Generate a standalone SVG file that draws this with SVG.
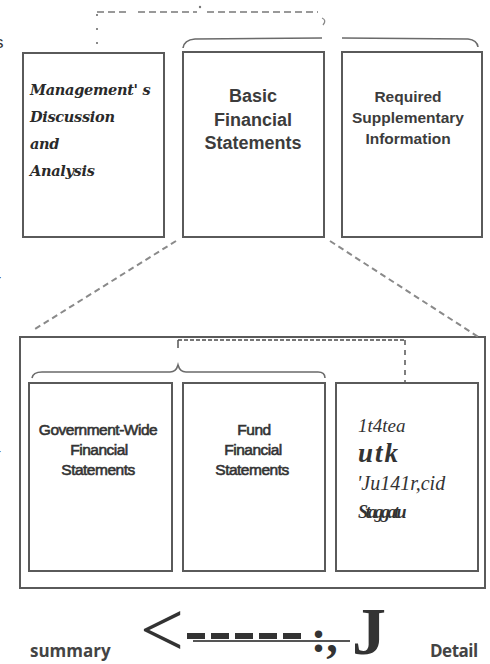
<svg xmlns="http://www.w3.org/2000/svg" width="490" height="664" viewBox="0 0 490 664">
<style>
.box{fill:none;stroke:#5a5a5a;stroke-width:2}
.dash{fill:none;stroke:#8a8a8a;stroke-width:2;stroke-dasharray:6 4}
.brace{fill:none;stroke:#6a6a6a;stroke-width:1.6}
.lbl{font-family:"Liberation Sans",Arial,sans-serif;fill:#3c3c3c;text-anchor:middle}
.big{font-size:18px;font-weight:bold}
.rsi{font-size:15.5px;font-weight:bold}
.sm{font-size:15.5px;letter-spacing:-0.5px;fill:#333;stroke:#333;stroke-width:0.6}
.script{font-family:"DejaVu Serif","Liberation Serif",serif;font-style:italic;font-weight:bold;font-size:14.5px;fill:#2a2a2a;letter-spacing:-0.3px}
.garb{font-family:"Liberation Serif","Times New Roman",serif;font-style:italic;fill:#333}
.frag{font-family:"Liberation Sans",Arial,sans-serif;fill:#333}
</style>
<rect width="490" height="664" fill="#fff"/>

<!-- edge fragments -->
<text class="frag" x="-5" y="48" font-size="17">s</text>
<text class="frag" x="-5" y="287" font-size="18" font-style="italic">t</text>
<text class="frag" x="-3" y="303" font-size="10">.</text>
<text class="frag" x="-3" y="455" font-size="12">-</text>

<g id="mdna">
  <rect class="box" x="23" y="53" width="141" height="184"/>
  <text class="script" x="30" y="95">Management' s</text>
  <text class="script" x="30" y="122">Discussion</text>
  <text class="script" x="30" y="149">and</text>
  <text class="script" x="30" y="176">Analysis</text>
</g>

<g id="basic">
  <rect class="box" x="183" y="52" width="141" height="185"/>
  <text class="lbl big" x="253" y="102">Basic</text>
  <text class="lbl big" x="253" y="126">Financial</text>
  <text class="lbl big" x="253" y="149">Statements</text>
</g>

<g id="rsi">
  <rect class="box" x="342" y="52" width="140" height="185"/>
  <text class="lbl rsi" x="408" y="102">Required</text>
  <text class="lbl rsi" x="408" y="123">Supplementary</text>
  <text class="lbl rsi" x="408" y="144">Information</text>
</g>

<g id="bfs-detail">
  <rect class="box" x="20" y="337" width="465" height="251"/>
</g>

<g id="govwide">
  <rect class="box" x="29" y="383" width="143" height="188"/>
  <text class="lbl sm" x="98" y="435">Government-Wide</text>
  <text class="lbl sm" x="99" y="455">Financial</text>
  <text class="lbl sm" x="98" y="475">Statements</text>
</g>

<g id="fund">
  <rect class="box" x="183" y="383" width="142" height="188"/>
  <text class="lbl sm" x="254" y="435">Fund</text>
  <text class="lbl sm" x="253" y="455">Financial</text>
  <text class="lbl sm" x="252" y="475">Statements</text>
</g>

<g id="notes">
  <rect class="box" x="336" y="383" width="142" height="188"/>
  <text class="garb" x="358" y="432" font-size="19">1t4tea</text>
  <text class="garb" x="358" y="462" font-size="27" font-weight="bold" letter-spacing="2">utk</text>
  <text class="garb" x="357" y="490" font-size="20">'Ju141r,cid</text>
  <text class="garb" x="358" y="518" font-size="18" font-weight="bold" letter-spacing="-2.5">Staggatu</text>
</g>

<g id="connectors">
  <path class="dash" d="M97,12 L128,12 M138,12 L197,12 M207,12 L318,12" style="stroke-dasharray:7 4;stroke:#999"/>
  <circle cx="200" cy="7" r="1.2" fill="#777"/>
  <path d="M322,18 Q327,20 323,25" fill="none" stroke="#888" stroke-width="1.3"/>
  <path class="dash" d="M97,14 L97,52" style="stroke-dasharray:2 12"/>
  <path class="brace" d="M183,48 Q184,40 195,39 L322,38 M342,38 L468,39 Q477,40 478,47"/>
  <path class="dash" d="M176,241 L35,329"/>
  <path class="dash" d="M330,241 L480,338"/>
  <path d="M178,340 L405,340" fill="none" stroke="#777" stroke-width="2" stroke-dasharray="4 2"/>
  <path d="M178,340 L178,348" fill="none" stroke="#555" stroke-width="1.5"/>
  <path d="M405,340 L405,382" fill="none" stroke="#555" stroke-width="1.5" stroke-dasharray="5 5"/>
  <path class="brace" d="M32,378 Q33,372 42,372 L170,372 Q176,372 178,365 Q180,372 186,372 L318,372 Q325,372 325,378"/>
  <path d="M187,636 L305,636" fill="none" stroke="#333" stroke-width="6" stroke-dasharray="18 6"/>
  <path d="M193,641 L350,641" fill="none" stroke="#555" stroke-width="2"/>
</g>

<g id="legend">
  <text x="30" y="657" font-family="'Open Sans','Liberation Sans',sans-serif" font-size="17" font-weight="bold" fill="#444">summary</text>
  <text x="140" y="656" font-family="'Liberation Serif',serif" font-size="78" fill="#333">&lt;</text>
  <text x="311" y="652" font-family="'Liberation Serif',serif" font-size="46" font-weight="bold" fill="#333">:,</text>
  <text x="352" y="654" font-family="'Liberation Serif',serif" font-size="68" font-weight="bold" fill="#333">J</text>
  <text x="430" y="657" font-family="'Open Sans','Liberation Sans',sans-serif" font-size="17" font-weight="bold" fill="#444" letter-spacing="-0.5">Detail</text>
</g>
</svg>
